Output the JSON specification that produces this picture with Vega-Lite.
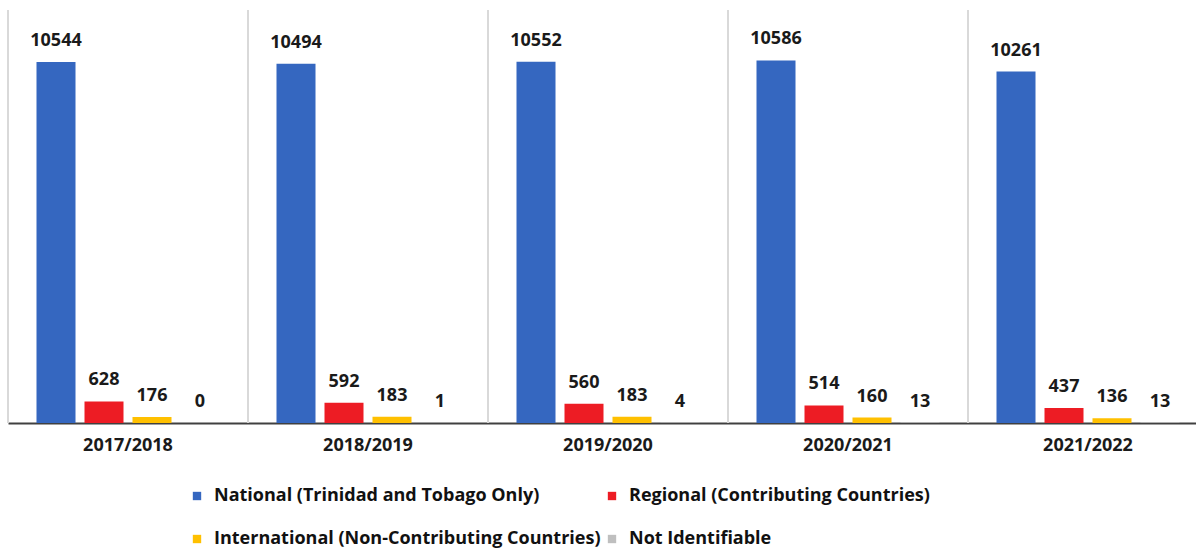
{
  "$schema": "https://vega.github.io/schema/vega-lite/v6.json",
  "width": 1188,
  "height": 413,
  "autosize": {"type": "none"},
  "padding": {"left": 8, "top": 10, "right": 0, "bottom": 129},
  "background": "white",
  "config": {
    "view": {"stroke": null},
    "font": "Open Sans"
  },
  "datasets": {
    "counts": [
      {"year": "2017/2018", "category": "National (Trinidad and Tobago Only)", "count": 10544},
      {"year": "2017/2018", "category": "Regional (Contributing Countries)", "count": 628},
      {"year": "2017/2018", "category": "International (Non-Contributing Countries)", "count": 176},
      {"year": "2017/2018", "category": "Not Identifiable", "count": 0},
      {"year": "2018/2019", "category": "National (Trinidad and Tobago Only)", "count": 10494},
      {"year": "2018/2019", "category": "Regional (Contributing Countries)", "count": 592},
      {"year": "2018/2019", "category": "International (Non-Contributing Countries)", "count": 183},
      {"year": "2018/2019", "category": "Not Identifiable", "count": 1},
      {"year": "2019/2020", "category": "National (Trinidad and Tobago Only)", "count": 10552},
      {"year": "2019/2020", "category": "Regional (Contributing Countries)", "count": 560},
      {"year": "2019/2020", "category": "International (Non-Contributing Countries)", "count": 183},
      {"year": "2019/2020", "category": "Not Identifiable", "count": 4},
      {"year": "2020/2021", "category": "National (Trinidad and Tobago Only)", "count": 10586},
      {"year": "2020/2021", "category": "Regional (Contributing Countries)", "count": 514},
      {"year": "2020/2021", "category": "International (Non-Contributing Countries)", "count": 160},
      {"year": "2020/2021", "category": "Not Identifiable", "count": 13},
      {"year": "2021/2022", "category": "National (Trinidad and Tobago Only)", "count": 10261},
      {"year": "2021/2022", "category": "Regional (Contributing Countries)", "count": 437},
      {"year": "2021/2022", "category": "International (Non-Contributing Countries)", "count": 136},
      {"year": "2021/2022", "category": "Not Identifiable", "count": 13}
    ],
    "years": [
      {"year": "2017/2018"},
      {"year": "2018/2019"},
      {"year": "2019/2020"},
      {"year": "2020/2021"},
      {"year": "2021/2022"}
    ]
  },
  "layer": [
    {
      "data": {"name": "years"},
      "mark": {"type": "rule", "color": "#d9d9d9", "strokeWidth": 2},
      "encoding": {
        "x": {"field": "year", "type": "nominal", "bandPosition": 0}
      }
    },
    {
      "data": {"name": "counts"},
      "mark": {"type": "bar"},
      "encoding": {
        "x": {
          "field": "year",
          "type": "nominal",
          "sort": null,
          "scale": {"range": [0, 1200], "paddingInner": 0, "paddingOuter": 0},
          "axis": {
            "title": null,
            "labelAngle": 0,
            "labelAlign": "center",
            "bandPosition": 0.5,
            "ticks": false,
            "domainColor": "#404040",
            "domainWidth": 2,
            "labelFont": "Open Sans",
            "labelFontSize": 18,
            "labelFontWeight": "bold",
            "labelColor": "#1a1a1a",
            "labelPadding": 22,
            "grid": false
          }
        },
        "xOffset": {
          "field": "category",
          "type": "nominal",
          "sort": ["National (Trinidad and Tobago Only)", "Regional (Contributing Countries)", "International (Non-Contributing Countries)", "Not Identifiable"],
          "scale": {"paddingInner": 0.1875, "paddingOuter": 0.59375}
        },
        "y": {
          "field": "count",
          "type": "quantitative",
          "scale": {"domain": [0, 12060], "nice": false},
          "axis": null
        },
        "color": {
          "field": "category",
          "type": "nominal",
          "scale": {
            "domain": ["National (Trinidad and Tobago Only)", "Regional (Contributing Countries)", "International (Non-Contributing Countries)", "Not Identifiable"],
            "range": ["#3567c0", "#ed1c24", "#ffc000", "#bfbfbf"]
          },
          "legend": {
            "title": null,
            "orient": "none",
            "legendX": 180,
            "legendY": 477,
            "direction": "horizontal",
            "columns": 2,
            "columnPadding": 2,
            "rowPadding": 25,
            "symbolType": "square",
            "symbolSize": 70,
            "symbolStrokeWidth": 0,
            "symbolOpacity": 1,
            "labelFont": "Open Sans",
            "labelFontSize": 18,
            "labelFontWeight": "bold",
            "labelColor": "#111111",
            "labelOffset": 8,
            "labelLimit": 0
          }
        }
      }
    },
    {
      "data": {"name": "counts"},
      "mark": {"type": "text", "baseline": "alphabetic", "dy": -16, "font": "Open Sans", "fontSize": 18, "fontWeight": "bold", "color": "#1a1a1a"},
      "encoding": {
        "x": {"field": "year", "type": "nominal", "sort": null},
        "xOffset": {
          "field": "category",
          "type": "nominal",
          "sort": ["National (Trinidad and Tobago Only)", "Regional (Contributing Countries)", "International (Non-Contributing Countries)", "Not Identifiable"]
        },
        "y": {"field": "count", "type": "quantitative"},
        "text": {"field": "count", "type": "quantitative", "format": "d"}
      }
    }
  ]
}
